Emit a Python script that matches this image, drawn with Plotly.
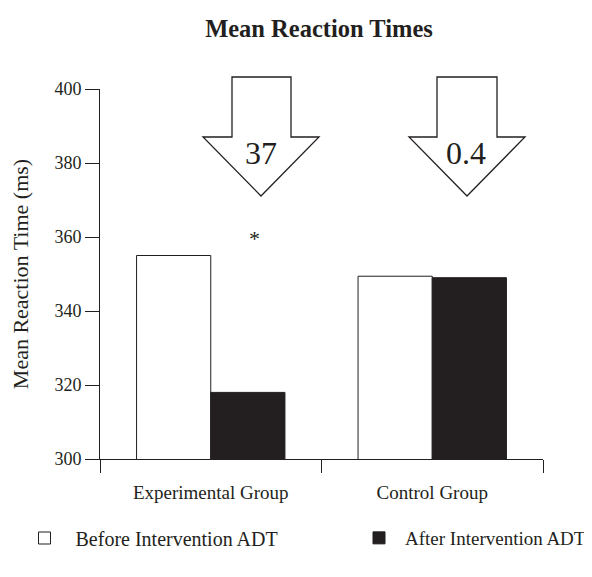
import plotly.graph_objects as go

categories = ["Experimental Group", "Control Group"]
before = [355.0, 349.4]
after = [318.0, 349.0]
y_ticks = [300, 320, 340, 360, 380, 400]
series_names = ["Before Intervention ADT", "After Intervention ADT"]

W, H = 592, 577
OFF = 8  # page body margin
# plot area in figure pixels
X0, X1 = 100 - OFF, 543 - OFF
Y0, Y1 = 89 - OFF, 459 - OFF
L, R, T, B = X0, W - X1, Y0, H - Y1
pw = X1 - X0
ph = Y1 - Y0


def px(x):  # screen x -> paper
    return (x - OFF - X0) / pw


def py(y):  # screen y -> paper
    return (Y1 - (y - OFF)) / ph


def cx(x):  # screen x -> container
    return (x - OFF) / W


def cy(y):  # screen y -> container
    return 1 - (y - OFF) / H


INK = "#231f20"
FONT = "Liberation Serif"

fig = go.Figure()
fig.add_bar(name=series_names[0], x=categories, y=before, legend="legend",
            marker=dict(color="white", line=dict(color=INK, width=1)))
fig.add_bar(name=series_names[1], x=categories, y=after, legend="legend2",
            marker=dict(color=INK, line=dict(color=INK, width=1)))

shapes = []
annotations = []


def arrow(shaft_l, shaft_r, head_l, head_r, tip_x, top, base, tip_y):
    pts = [(shaft_l, top), (shaft_r, top), (shaft_r, base), (head_r, base),
           (tip_x, tip_y), (head_l, base), (shaft_l, base)]
    d = "M " + " L ".join(f"{px(x):.5f},{py(y):.5f}" for x, y in pts) + " Z"
    shapes.append(dict(type="path", xref="paper", yref="paper", path=d,
                       line=dict(color=INK, width=1.3), fillcolor="white"))


arrow(232, 291, 203, 319, 261, 77, 137, 196)
arrow(437, 497, 409, 525, 467, 77, 137, 196)

diffs = [b - a for b, a in zip(before, after)]
labels = [f"{diffs[0]:.0f}", f"{diffs[1]:.1f}"]
for lab, lx in zip(labels, [261, 466]):
    annotations.append(dict(xref="paper", yref="paper", x=px(lx), y=py(153),
                            text=lab, showarrow=False,
                            font=dict(family=FONT, size=32, color=INK),
                            xanchor="center", yanchor="middle"))

annotations.append(dict(xref="paper", yref="paper", x=px(254), y=py(238),
                        text="*", showarrow=False,
                        font=dict(family=FONT, size=22, color=INK),
                        xanchor="center", yanchor="middle"))

leg_common = dict(orientation="h", xanchor="left", yanchor="middle",
                  xref="container", yref="container",
                  bgcolor="rgba(0,0,0,0)", borderwidth=0)

fig.update_layout(
    width=W, height=H,
    margin=dict(l=L, r=R, t=T, b=B),
    paper_bgcolor="white", plot_bgcolor="white",
    title=dict(text="<b>Mean Reaction Times</b>", xref="paper", x=px(319),
               xanchor="center", y=cy(28), yanchor="middle",
               font=dict(family=FONT, size=24.5, color=INK)),
    font=dict(family=FONT, size=18, color=INK),
    barmode="group", bargap=0.33, bargroupgap=0,
    showlegend=True,
    legend=dict(x=cx(13.5), y=cy(538), itemwidth=52,
                font=dict(family=FONT, size=20, color=INK), **leg_common),
    legend2=dict(x=cx(353), y=cy(538), itemwidth=42,
                 font=dict(family=FONT, size=19, color=INK), **leg_common),
    shapes=shapes,
    annotations=annotations,
)
fig.update_xaxes(showline=True, linecolor=INK, linewidth=1, ticks="outside",
                 tickson="boundaries", ticklen=13, tickcolor=INK,
                 ticklabelstandoff=16, automargin=False,
                 showgrid=False, zeroline=False,
                 tickfont=dict(family=FONT, size=19, color=INK))
fig.update_yaxes(range=[300, 400], tickvals=y_ticks, showline=True,
                 linecolor=INK, linewidth=1, ticks="outside", ticklen=14,
                 tickcolor=INK, showgrid=False, zeroline=False,
                 automargin=False,
                 title=dict(text="Mean Reaction Time (ms)", standoff=27,
                            font=dict(family=FONT, size=22, color=INK)),
                 tickfont=dict(family=FONT, size=18, color=INK))

fig.write_html("out.html")
